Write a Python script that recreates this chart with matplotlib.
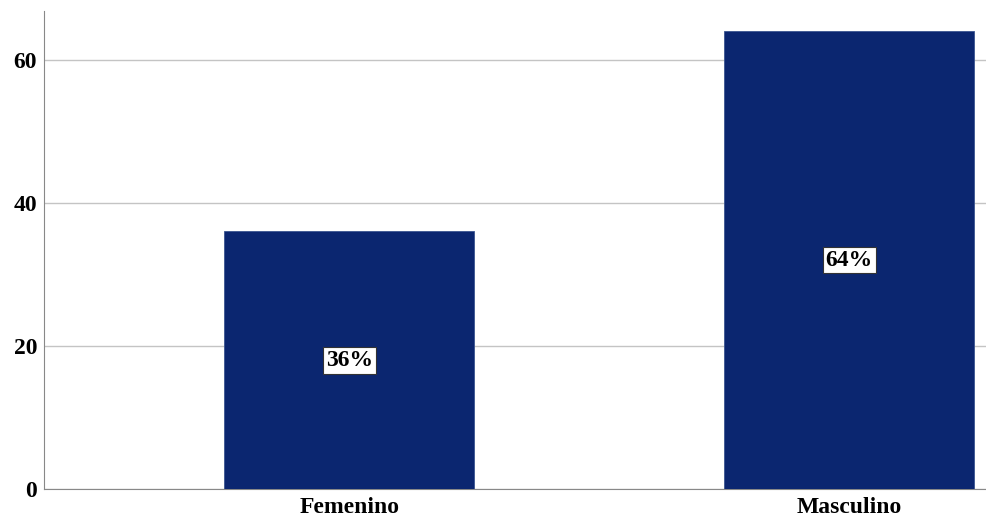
import matplotlib
matplotlib.use('Agg')
import matplotlib.pyplot as plt

# data
categories = ['Femenino', 'Masculino']
counts = [36, 64]
labels = ['36%', '64%']

plt.rcParams['font.family'] = ['Liberation Serif', 'DejaVu Serif']

fig = plt.figure(figsize=(9.86, 5.18), dpi=100)
ax = fig.add_axes([44 / 986, 29 / 518, 942 / 986, 478 / 518])

x = list(range(len(categories)))
bars = ax.bar(x, counts, width=0.5, color='#0b2670', edgecolor='#3a5590',
              linewidth=0.6, zorder=3)

for b, lab in zip(bars, labels):
    ax.text(b.get_x() + b.get_width() / 2, b.get_height() / 2, lab,
            ha='center', va='center', fontsize=17, fontweight='bold',
            color='black', zorder=4,
            bbox=dict(boxstyle='square,pad=0.12', fc='white', ec='#333333', lw=0.8))

ax.set_xlim(-0.611, 1.274)
ax.set_ylim(0, 66.8)
ax.set_yticks([0, 20, 40, 60])
ax.set_xticks(x)
ax.set_xticklabels(categories)
ax.tick_params(axis='both', length=0, labelsize=17)
ax.tick_params(axis='y', pad=5)
ax.tick_params(axis='x', pad=6)
for t in ax.get_xticklabels() + ax.get_yticklabels():
    t.set_fontweight('bold')

ax.yaxis.grid(True, color='#c4c4c4', linewidth=1.0, zorder=0)
ax.set_axisbelow(True)
for side in ['top', 'right']:
    ax.spines[side].set_visible(False)
ax.spines['left'].set_color('#888888')
ax.spines['bottom'].set_color('#888888')

fig.savefig('out.png', dpi=100)
